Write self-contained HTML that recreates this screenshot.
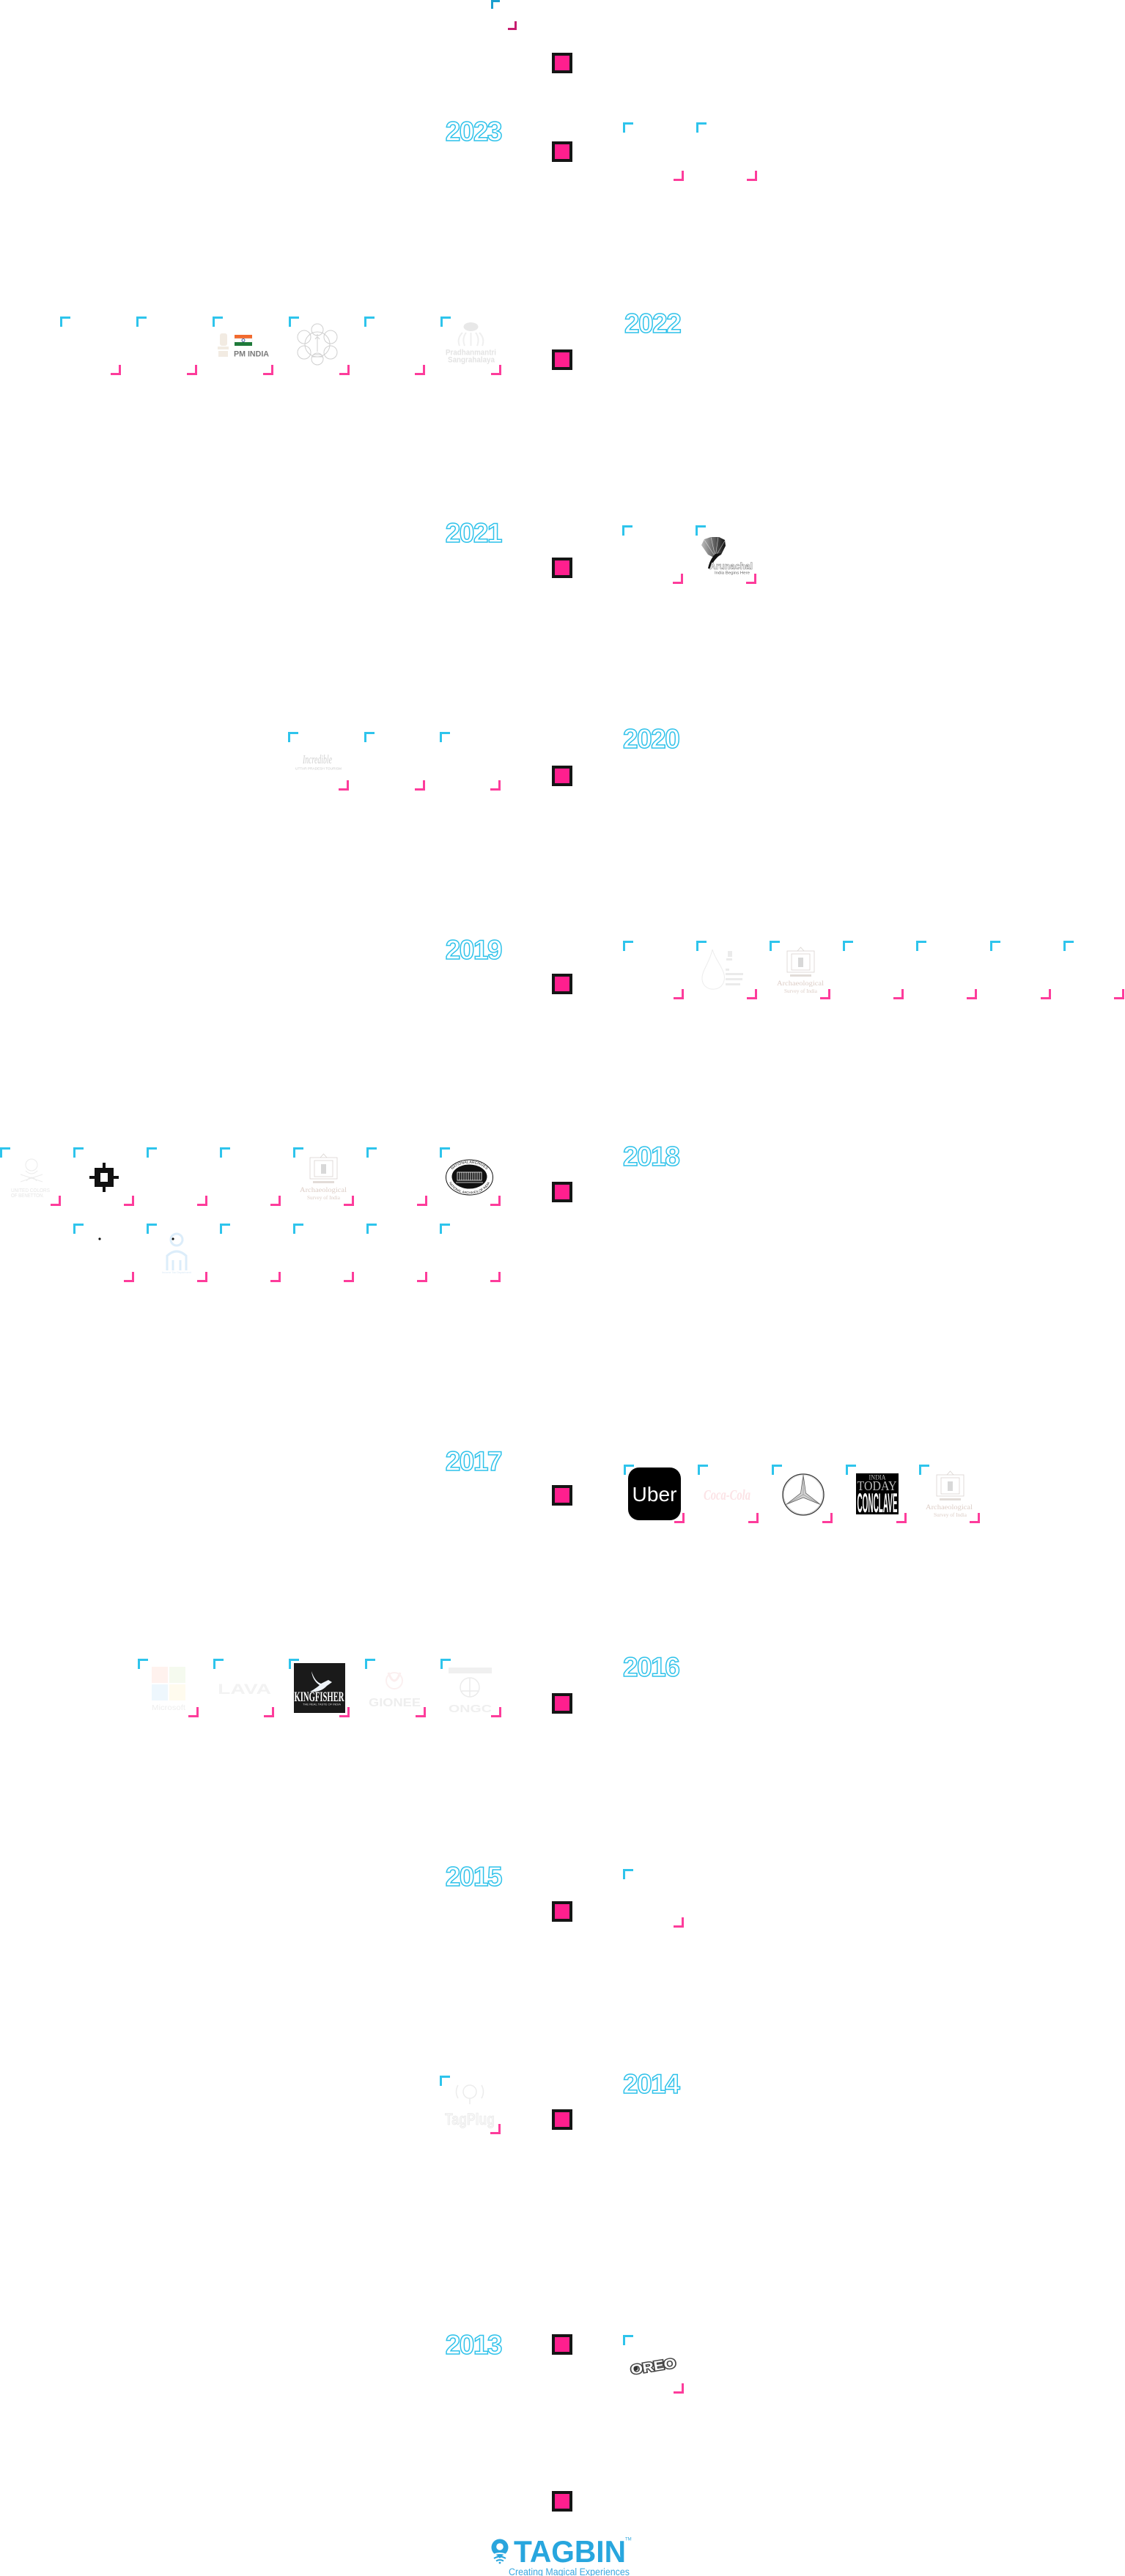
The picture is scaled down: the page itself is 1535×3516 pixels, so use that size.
<!DOCTYPE html>
<html><head><meta charset="utf-8">
<style>
html,body{margin:0;padding:0;background:#fff;}
body{width:1535px;height:3516px;position:relative;overflow:hidden;font-family:"Liberation Sans",sans-serif;}
.b{position:absolute;width:83px;height:80px;}
.b::before{content:"";position:absolute;left:0;top:0;width:11px;height:11px;border-left:3px solid #2ec4ec;border-top:3px solid #2ec4ec;}
.b::after{content:"";position:absolute;right:0;bottom:0;width:11px;height:11px;border-right:3px solid #fd3c9b;border-bottom:3px solid #fd3c9b;}
.sq{position:absolute;left:753px;width:20px;height:20px;border:4px solid #151515;background:#ff1f8e;}
.y{position:absolute;font-weight:900;font-size:37px;line-height:37px;letter-spacing:-1.5px;color:#fff;-webkit-text-stroke:1.5px #2fc2ea;white-space:nowrap;}
.yl{right:851px;text-align:right;}
.yr{left:850px;}
svg{position:absolute;left:0;top:0;}
</style></head><body>

<!-- top partial brackets -->
<div style="position:absolute;left:670px;top:0;width:9px;height:9px;border-left:3px solid #1b9fcf;border-top:3px solid #1b9fcf;"></div>
<div style="position:absolute;left:693px;top:29px;width:9px;height:9px;border-right:3px solid #c71c6f;border-bottom:3px solid #c71c6f;"></div>

<!-- squares -->
<div class="sq" style="top:72px"></div>
<div class="sq" style="top:193px"></div>
<div class="sq" style="top:477px"></div>
<div class="sq" style="top:761px"></div>
<div class="sq" style="top:1045px"></div>
<div class="sq" style="top:1329px"></div>
<div class="sq" style="top:1613px"></div>
<div class="sq" style="top:2027px"></div>
<div class="sq" style="top:2311px"></div>
<div class="sq" style="top:2595px"></div>
<div class="sq" style="top:2879px"></div>
<div class="sq" style="top:3186px"></div>
<div class="sq" style="top:3400px"></div>

<!-- years -->
<div class="y yl" style="top:161px">2023</div>
<div class="y yr" style="top:423px;left:852px">2022</div>
<div class="y yl" style="top:709px">2021</div>
<div class="y yr" style="top:990px">2020</div>
<div class="y yl" style="top:1278px">2019</div>
<div class="y yr" style="top:1560px">2018</div>
<div class="y yl" style="top:1976px">2017</div>
<div class="y yr" style="top:2257px">2016</div>
<div class="y yl" style="top:2543px">2015</div>
<div class="y yr" style="top:2826px">2014</div>
<div class="y yl" style="top:3182px">2013</div>

<!-- 2023 right -->
<div class="b" style="left:850px;top:167px"></div>
<div class="b" style="left:950px;top:167px"></div>
<!-- 2022 left -->
<div class="b" style="left:82px;top:432px"></div>
<div class="b" style="left:186px;top:432px"></div>
<div class="b" style="left:290px;top:432px"></div>
<div class="b" style="left:394px;top:432px"></div>
<div class="b" style="left:497px;top:432px"></div>
<div class="b" style="left:601px;top:432px"></div>
<!-- 2021 right -->
<div class="b" style="left:849px;top:717px"></div>
<div class="b" style="left:949px;top:717px"></div>
<!-- 2020 left -->
<div class="b" style="left:393px;top:999px"></div>
<div class="b" style="left:497px;top:999px"></div>
<div class="b" style="left:600px;top:999px"></div>
<!-- 2019 right -->
<div class="b" style="left:850px;top:1284px"></div>
<div class="b" style="left:950px;top:1284px"></div>
<div class="b" style="left:1050px;top:1284px"></div>
<div class="b" style="left:1150px;top:1284px"></div>
<div class="b" style="left:1250px;top:1284px"></div>
<div class="b" style="left:1351px;top:1284px"></div>
<div class="b" style="left:1451px;top:1284px"></div>
<!-- 2018 left -->
<div class="b" style="left:0px;top:1566px"></div>
<div class="b" style="left:100px;top:1566px"></div>
<div class="b" style="left:200px;top:1566px"></div>
<div class="b" style="left:300px;top:1566px"></div>
<div class="b" style="left:400px;top:1566px"></div>
<div class="b" style="left:500px;top:1566px"></div>
<div class="b" style="left:600px;top:1566px"></div>
<div class="b" style="left:100px;top:1670px"></div>
<div class="b" style="left:200px;top:1670px"></div>
<div class="b" style="left:300px;top:1670px"></div>
<div class="b" style="left:400px;top:1670px"></div>
<div class="b" style="left:500px;top:1670px"></div>
<div class="b" style="left:600px;top:1670px"></div>
<!-- 2017 right -->
<div class="b" style="left:851px;top:1999px"></div>
<div class="b" style="left:952px;top:1999px"></div>
<div class="b" style="left:1053px;top:1999px"></div>
<div class="b" style="left:1154px;top:1999px"></div>
<div class="b" style="left:1254px;top:1999px"></div>
<!-- 2016 left -->
<div class="b" style="left:188px;top:2264px"></div>
<div class="b" style="left:291px;top:2264px"></div>
<div class="b" style="left:394px;top:2264px"></div>
<div class="b" style="left:498px;top:2264px"></div>
<div class="b" style="left:601px;top:2264px"></div>
<!-- 2015 right -->
<div class="b" style="left:850px;top:2551px"></div>
<!-- 2014 left -->
<div class="b" style="left:600px;top:2833px"></div>
<!-- 2013 right -->
<div class="b" style="left:850px;top:3187px"></div>

<svg width="1535" height="3516" viewBox="0 0 1535 3516" xmlns="http://www.w3.org/2000/svg" font-family="Liberation Sans, sans-serif">
<!-- PM INDIA -->
<g fill="#f2ebe2">
<rect x="300" y="455" width="10" height="17" rx="3"/>
<rect x="297" y="473" width="15" height="4"/>
<rect x="298" y="479" width="13" height="8"/>
</g>
<rect x="320" y="457" width="24" height="5" fill="#f26a2e"/>
<rect x="320" y="462" width="24" height="5" fill="#fff" stroke="#e2e2e2" stroke-width="0.4"/>
<circle cx="332" cy="464.5" r="2" fill="none" stroke="#1b3a8a" stroke-width="0.8"/>
<rect x="320" y="467" width="24" height="5" fill="#1f7a3a"/>
<text x="319" y="486.5" font-size="11" font-weight="bold" fill="#7a7a7a" textLength="48" lengthAdjust="spacingAndGlyphs">PM INDIA</text>

<!-- lotus emblem -->
<g fill="none" stroke="#cfcfcf" stroke-width="1">
<circle cx="433" cy="470" r="17"/>
<circle cx="433" cy="450" r="8"/>
<circle cx="451" cy="460" r="9"/>
<circle cx="451" cy="481" r="9"/>
<circle cx="433" cy="490" r="8"/>
<circle cx="415" cy="481" r="9"/>
<circle cx="415" cy="460" r="9"/>
<path d="M433 456 L433 480 M428 484 L438 484 M426 487 L440 487 M430 463 Q433 458 436 463"/>
</g>

<!-- Pradhanmantri Sangrahalaya -->
<ellipse cx="642.5" cy="446" rx="10" ry="6" fill="#e8e8e8"/>
<g fill="none" stroke="#efefef" stroke-width="2">
<path d="M636 454 Q630 462 634 472"/><path d="M631 454 Q623 462 627 472"/>
<path d="M649 454 Q655 462 651 472"/><path d="M654 454 Q662 462 658 472"/>
<path d="M642.5 454 L642.5 472"/>
</g>
<text x="642.5" y="484.5" text-anchor="middle" font-size="11" font-weight="bold" fill="#e3e3e3" textLength="69" lengthAdjust="spacingAndGlyphs">Pradhanmantri</text>
<text x="643" y="494.5" text-anchor="middle" font-size="11" font-weight="bold" fill="#e3e3e3" textLength="64" lengthAdjust="spacingAndGlyphs">Sangrahalaya</text>

<!-- bird logo 2021 -->
<defs>
<linearGradient id="fan" x1="0" y1="0" x2="1" y2="0">
<stop offset="0" stop-color="#bdbdbd"/><stop offset="0.6" stop-color="#555"/><stop offset="1" stop-color="#111"/>
</linearGradient>
</defs>
<path d="M957 744 L961 736 L970 733 L981 733 L989 737 L990 745 L984 757 L976 762 L966 757 Z" fill="url(#fan)"/>
<g stroke="#fff" stroke-width="0.6" opacity="0.7">
<path d="M976 760 L961 737"/><path d="M976 760 L970 733"/><path d="M976 760 L980 733"/><path d="M976 760 L989 738"/>
</g>
<path d="M984 755 C 978 762, 972 766, 970 776 L 966 776 C 968 766, 972 760, 976 756 Z" fill="#111"/>
<text x="968" y="777" font-size="13" font-weight="bold" fill="#fff" stroke="#8a8a8a" stroke-width="0.6" textLength="59" lengthAdjust="spacingAndGlyphs">Arunachal</text>
<text x="975" y="783.5" font-size="5.5" fill="#666" textLength="48" lengthAdjust="spacingAndGlyphs">India Begins Here</text>

<!-- signature 2020 -->
<text x="413" y="1042" font-family="Liberation Serif, serif" font-style="italic" font-size="17" fill="#d0d0d0" textLength="40" lengthAdjust="spacingAndGlyphs">Incredible</text>
<text x="403" y="1050.5" font-size="4.5" fill="#c9c9c9" textLength="63" lengthAdjust="spacingAndGlyphs">UTTAR PRADESH TOURISM</text>

<!-- Jal Shakti 2019 -->
<path d="M972 1296 C 968 1315, 957 1325, 958 1337 C 959 1347, 968 1351, 975 1350 C 985 1349, 990 1340, 988 1330 C 985 1318, 976 1310, 972 1296 Z" fill="none" stroke="#ececec" stroke-width="1"/>
<g fill="#ebebeb">
<rect x="993" y="1298" width="6" height="8"/><rect x="991" y="1308" width="8" height="3"/>
<rect x="990" y="1322" width="5" height="3"/><rect x="990" y="1328" width="24" height="3"/>
<rect x="990" y="1335" width="23" height="3"/><rect x="990" y="1342" width="20" height="3"/>
</g>

<!-- ASI logos -->
<g transform="translate(1074 1293)">
<g fill="none" stroke="#d9d3d0" stroke-width="0.8">
<rect x="0" y="5" width="37" height="29"/><path d="M14 5 L18.5 0 L23 5"/><rect x="6" y="9" width="25" height="22"/>
</g>
<rect x="15" y="14" width="7" height="13" fill="#d8d8d8"/>
<rect x="4" y="37" width="29" height="3" fill="#e2dcd8"/>
<text x="-14" y="52" font-family="Liberation Serif, serif" font-size="9" fill="#dccdc6" textLength="64" lengthAdjust="spacingAndGlyphs">Archaeological</text>
<text x="-4" y="62" font-family="Liberation Serif, serif" font-size="7.5" fill="#dccdc6" textLength="45" lengthAdjust="spacingAndGlyphs">Survey of India</text>
</g>
<g transform="translate(423 1575)">
<g fill="none" stroke="#d9d3d0" stroke-width="0.8">
<rect x="0" y="5" width="37" height="29"/><path d="M14 5 L18.5 0 L23 5"/><rect x="6" y="9" width="25" height="22"/>
</g>
<rect x="15" y="14" width="7" height="13" fill="#d8d8d8"/>
<rect x="4" y="37" width="29" height="3" fill="#e2dcd8"/>
<text x="-14" y="52" font-family="Liberation Serif, serif" font-size="9" fill="#dccdc6" textLength="64" lengthAdjust="spacingAndGlyphs">Archaeological</text>
<text x="-4" y="62" font-family="Liberation Serif, serif" font-size="7.5" fill="#dccdc6" textLength="45" lengthAdjust="spacingAndGlyphs">Survey of India</text>
</g>
<g transform="translate(1278 2008)">
<g fill="none" stroke="#d9d3d0" stroke-width="0.8">
<rect x="0" y="5" width="37" height="29"/><path d="M14 5 L18.5 0 L23 5"/><rect x="6" y="9" width="25" height="22"/>
</g>
<rect x="15" y="14" width="7" height="13" fill="#d8d8d8"/>
<rect x="4" y="37" width="29" height="3" fill="#e2dcd8"/>
<text x="-15" y="52" font-family="Liberation Serif, serif" font-size="9" fill="#dccdc6" textLength="64" lengthAdjust="spacingAndGlyphs">Archaeological</text>
<text x="-4" y="62" font-family="Liberation Serif, serif" font-size="7.5" fill="#dccdc6" textLength="45" lengthAdjust="spacingAndGlyphs">Survey of India</text>
</g>

<!-- Benetton -->
<g fill="none" stroke="#ebebeb" stroke-width="1">
<circle cx="43" cy="1590" r="8"/>
<path d="M35 1598 Q43 1606 51 1598 M28 1603 L58 1613 M58 1603 L28 1613 M36 1612 Q43 1602 50 1612"/>
</g>
<text x="15" y="1627" font-size="7.5" fill="#e6e6e6" textLength="53" lengthAdjust="spacingAndGlyphs">UNITED COLORS</text>
<text x="15" y="1634" font-size="7.5" fill="#e6e6e6" textLength="45" lengthAdjust="spacingAndGlyphs">OF BENETTON.</text>

<!-- black icon -->
<path fill="#111" fill-rule="evenodd" d="M129 1594h26v26h-26z M137 1601v12h10v-12z"/>
<rect x="140" y="1587" width="4" height="7" fill="#111"/>
<rect x="140" y="1620" width="4" height="7" fill="#111"/>
<rect x="122" y="1605" width="7" height="4" fill="#111"/>
<rect x="155" y="1605" width="7" height="4" fill="#111"/>

<!-- National Archives -->
<defs>
<path id="arcTop" d="M613 1607 A27.5 19.5 0 0 1 668 1607"/>
<path id="arcBot" d="M612 1609 A28.5 20.5 0 0 0 669 1609"/>
</defs>
<ellipse cx="640.5" cy="1607" rx="32" ry="24" fill="#fff" stroke="#111" stroke-width="1"/>
<text font-size="5" fill="#111"><textPath href="#arcTop" startOffset="50%" text-anchor="middle">NATIONAL ARCHIVES</textPath></text>
<text font-size="4.5" fill="#111"><textPath href="#arcBot" startOffset="50%" text-anchor="middle">NATIONAL ARCHIVES OF INDIA</textPath></text>
<ellipse cx="640.5" cy="1606" rx="24" ry="16.5" fill="#111"/>
<g fill="none" stroke="#fff" stroke-width="0.8">
<rect x="624" y="1600" width="33" height="11"/>
<path d="M627 1600v11M630 1600v11M633 1600v11M636 1600v11M639 1600v11M642 1600v11M645 1600v11M648 1600v11M651 1600v11M654 1600v11"/>
<path d="M622 1614 L659 1614"/>
</g>

<!-- row 2 2018 -->
<circle cx="136" cy="1691" r="1.6" fill="#111"/>
<circle cx="236" cy="1691" r="1.6" fill="#111"/>
<g fill="none" stroke="#dcedfa" stroke-width="3">
<circle cx="241" cy="1692" r="8"/>
<path d="M228 1734 L228 1714 Q241 1702 254 1714 L254 1734"/>
<path d="M236 1734 L236 1720 M246 1734 L246 1720"/>
</g>
<text x="221" y="1738" font-size="4" fill="#dbeaf6" textLength="40">Income Tax Department</text>

<!-- Uber -->
<rect x="857" y="2003" width="72" height="72" rx="15" fill="#000"/>
<text x="893" y="2049" text-anchor="middle" font-size="28" fill="#fff" textLength="61" lengthAdjust="spacingAndGlyphs">Uber</text>

<!-- Coca-Cola -->
<text x="960" y="2047" font-family="Liberation Serif, serif" font-style="italic" font-weight="bold" font-size="20" fill="#fce3e6" textLength="64" lengthAdjust="spacingAndGlyphs">Coca-Cola</text>

<!-- Mercedes -->
<circle cx="1096" cy="2040" r="28" fill="none" stroke="#333" stroke-width="1.3"/>
<circle cx="1096" cy="2040" r="26.5" fill="none" stroke="#bbb" stroke-width="0.6"/>
<polygon points="1096,2013 1099.5,2038 1119.4,2053.5 1096,2044 1072.6,2053.5 1092.5,2038" fill="#d2d2d2" stroke="#555" stroke-width="0.7"/>
<path d="M1096 2013 L1096 2040 L1119.4 2053.5 M1096 2040 L1072.6 2053.5" stroke="#888" stroke-width="0.6" fill="none"/>

<!-- India Today Conclave -->
<rect x="1168" y="2011" width="58" height="56" fill="#000"/>
<text x="1197" y="2019.5" text-anchor="middle" font-family="Liberation Serif, serif" font-size="9" fill="#bdbdbd" textLength="23" lengthAdjust="spacingAndGlyphs">INDIA</text>
<text x="1196.5" y="2034" text-anchor="middle" font-family="Liberation Serif, serif" font-size="18" fill="#bdbdbd" textLength="54" lengthAdjust="spacingAndGlyphs">TODAY</text>
<text x="1197" y="2064" text-anchor="middle" font-size="37" font-weight="bold" fill="#fff" textLength="55" lengthAdjust="spacingAndGlyphs">CONCLAVE</text>

<!-- Microsoft -->
<rect x="207" y="2275" width="22" height="22" fill="#fff2ee"/>
<rect x="231" y="2275" width="22" height="22" fill="#f5faef"/>
<rect x="207" y="2299" width="22" height="22" fill="#eef7fd"/>
<rect x="231" y="2299" width="22" height="22" fill="#fffbee"/>
<text x="207" y="2334" font-size="10" fill="#eeeeee" textLength="46" lengthAdjust="spacingAndGlyphs">Microsoft</text>

<!-- LAVA -->
<text x="297" y="2312" font-size="19" font-weight="bold" fill="#f2f2f2" textLength="73" lengthAdjust="spacingAndGlyphs">LAVA</text>

<!-- Kingfisher -->
<rect x="401" y="2270" width="70" height="68" fill="#1a1a1a"/>
<path d="M425 2281 C 428 2290, 432 2296, 438 2298 L 448 2293 L 453 2296 L 446 2301 C 440 2308, 430 2310, 423 2309 C 430 2305, 434 2302, 436 2300 C 430 2296, 426 2290, 425 2281 Z" fill="#eef3f8"/>
<text x="401.5" y="2322" font-family="Liberation Serif, serif" font-weight="bold" font-size="19" fill="#fff" textLength="68" lengthAdjust="spacingAndGlyphs">KINGFISHER</text>
<text x="413" y="2327.5" font-size="4" fill="#ddd" textLength="52" lengthAdjust="spacingAndGlyphs">THE REAL TASTE OF INDIA</text>

<!-- Gionee -->
<path d="M530 2283 Q 538 2305 546 2283" fill="none" stroke="#fbeeee" stroke-width="3"/>
<circle cx="538" cy="2294" r="11" fill="none" stroke="#fbf0f0" stroke-width="2"/>
<text x="503" y="2329" font-size="16" font-weight="bold" fill="#eeeeee" textLength="71" lengthAdjust="spacingAndGlyphs">GIONEE</text>

<!-- ONGC -->
<rect x="612" y="2276" width="59" height="8" fill="#f0f0f0"/>
<circle cx="641" cy="2303" r="13" fill="none" stroke="#ebebeb" stroke-width="1.5"/>
<path d="M641 2290 L641 2316 M630 2308 L652 2308" stroke="#ebebeb" stroke-width="1.5"/>
<text x="612" y="2337" font-size="15" font-weight="bold" fill="#efefef" textLength="59" lengthAdjust="spacingAndGlyphs">ONGC</text>

<!-- TagPlug -->
<g fill="none" stroke="#ececec" stroke-width="1.5">
<circle cx="641" cy="2855" r="9"/><path d="M625 2846 Q620 2855 625 2864 M657 2846 Q662 2855 657 2864 M641 2864 L641 2872"/>
</g>
<text x="607" y="2900" font-size="22" font-weight="bold" fill="#f6f6f6" stroke="#e4e4e4" stroke-width="0.6" textLength="68" lengthAdjust="spacingAndGlyphs">TagPlug</text>

<!-- Oreo -->
<g transform="rotate(-9 891 3228)">
<text x="860" y="3236" font-size="18" font-weight="bold" fill="#fff" stroke="#454545" stroke-width="3" paint-order="stroke" textLength="62" lengthAdjust="spacingAndGlyphs">OREO</text>
<circle cx="867" cy="3229" r="3" fill="#333"/>
</g>

<!-- Footer TAGBIN -->
<circle cx="682" cy="3477" r="11.5" fill="#29a5dd"/>
<path d="M671.5 3481 L682 3492 L692.5 3481 Z" fill="#29a5dd"/>
<circle cx="682" cy="3476" r="4.8" fill="#fff"/>
<path d="M672 3488 Q682 3482 692 3488" stroke="#fff" stroke-width="2" fill="none"/>
<path d="M674 3492 Q682 3487 690 3492" stroke="#29a5dd" stroke-width="2" fill="none"/>
<path d="M677 3495.5 Q682 3492.5 687 3495.5" stroke="#29a5dd" stroke-width="2" fill="none"/>
<circle cx="682" cy="3498" r="1.4" fill="#29a5dd"/>
<text x="701" y="3497" font-size="42" font-weight="bold" fill="#28a6de" textLength="153" lengthAdjust="spacingAndGlyphs">TAGBIN</text>
<text x="853" y="3467.5" font-size="6" fill="#28a6de">TM</text>
<text x="694" y="3515" font-size="13.5" fill="#3aa8df" textLength="165" lengthAdjust="spacingAndGlyphs">Creating Magical Experiences</text>
</svg>
</body></html>
